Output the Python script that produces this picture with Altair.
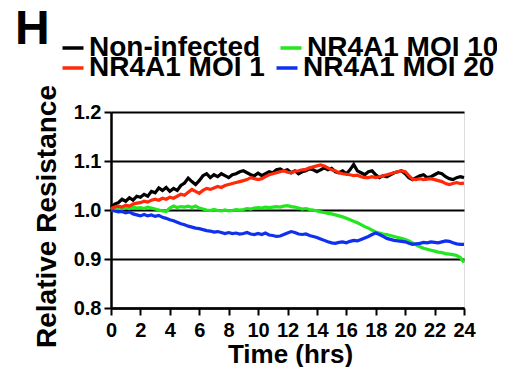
import altair as alt
import pandas as pd

row1_names = ["Non-infected", "NR4A1 MOI 10"]
row1_colors = ["#000000", "#22e61e"]
row2_names = ["NR4A1 MOI 1", "NR4A1 MOI 20"]
row2_colors = ["#ff2a0a", "#1030f0"]

step_hours = 0.25

non_infected = [
    1.005, 1.012, 1.015, 1.022, 1.018, 1.025, 1.020, 1.028, 1.026, 1.032, 1.028, 1.038,
    1.035, 1.045, 1.040, 1.046, 1.038, 1.044, 1.040, 1.050, 1.055, 1.065, 1.058, 1.052,
    1.060, 1.070, 1.074, 1.066, 1.072, 1.068, 1.074, 1.070, 1.066, 1.072, 1.074, 1.078,
    1.080, 1.076, 1.072, 1.070, 1.075, 1.070, 1.074, 1.078, 1.076, 1.082, 1.084, 1.080,
    1.082, 1.076, 1.080, 1.074, 1.078, 1.080, 1.084, 1.082, 1.078, 1.082, 1.086, 1.082,
    1.085, 1.078, 1.076, 1.080, 1.074, 1.082, 1.093, 1.080, 1.076, 1.072, 1.078, 1.080,
    1.072, 1.066, 1.070, 1.068, 1.072, 1.076, 1.078, 1.080, 1.074, 1.066, 1.062, 1.066,
    1.070, 1.072, 1.066, 1.068, 1.072, 1.076, 1.074, 1.068, 1.064, 1.062, 1.066, 1.068,
    1.066,
]

moi_1 = [
    1.003, 1.006, 1.008, 1.006, 1.010, 1.008, 1.012, 1.014, 1.015, 1.018, 1.016, 1.020,
    1.022, 1.020, 1.024, 1.022, 1.026, 1.024, 1.028, 1.032, 1.030, 1.036, 1.042, 1.038,
    1.034, 1.040, 1.044, 1.042, 1.045, 1.048, 1.046, 1.050, 1.052, 1.054, 1.056, 1.058,
    1.060, 1.062, 1.066, 1.064, 1.062, 1.064, 1.068, 1.072, 1.074, 1.076, 1.078, 1.080,
    1.077, 1.076, 1.079, 1.080, 1.082, 1.083, 1.086, 1.088, 1.090, 1.092, 1.090, 1.086,
    1.082, 1.080, 1.076, 1.074, 1.073, 1.072, 1.070, 1.071, 1.068, 1.066, 1.066, 1.068,
    1.066, 1.068, 1.070, 1.072, 1.074, 1.076, 1.078, 1.080, 1.078, 1.070, 1.063, 1.062,
    1.064, 1.062, 1.063, 1.064, 1.062, 1.060, 1.058, 1.054, 1.052, 1.054, 1.056, 1.054,
    1.055,
]

moi_10 = [
    1.000, 1.002, 1.004, 1.002, 1.005, 1.003, 1.006, 1.004, 1.005, 1.003, 1.006, 1.004,
    1.002, 1.000, 0.998, 0.997, 1.004, 1.008, 1.005, 1.007, 1.006, 1.008, 1.005, 1.008,
    1.004, 1.002, 1.000, 0.999, 1.001, 0.999, 0.998, 1.000, 0.998, 0.999, 1.001, 1.000,
    1.001, 1.003, 1.002, 1.004, 1.005, 1.004, 1.006, 1.005, 1.006, 1.007, 1.006, 1.008,
    1.009, 1.007, 1.006, 1.004, 1.002, 1.003, 1.001, 1.000, 0.998, 0.996, 0.995, 0.993,
    0.992, 0.990, 0.988, 0.986, 0.983, 0.980, 0.977, 0.974, 0.970, 0.966, 0.963, 0.959,
    0.955, 0.953, 0.951, 0.950, 0.948, 0.946, 0.944, 0.942, 0.940, 0.937, 0.933, 0.929,
    0.925, 0.922, 0.920, 0.918, 0.916, 0.914, 0.913, 0.911, 0.910, 0.909, 0.907, 0.903,
    0.893,
]

moi_20 = [
    0.999, 0.998, 0.996, 0.997, 0.994, 0.996, 0.992, 0.990, 0.988, 0.991, 0.988, 0.990,
    0.987, 0.989, 0.985, 0.983, 0.980, 0.978, 0.975, 0.972, 0.970, 0.967, 0.965, 0.963,
    0.962, 0.960, 0.958, 0.957, 0.955, 0.956, 0.954, 0.952, 0.954, 0.952, 0.953, 0.951,
    0.952, 0.954, 0.951, 0.950, 0.952, 0.950, 0.953, 0.949, 0.948, 0.946, 0.947, 0.950,
    0.953, 0.956, 0.954, 0.951, 0.950, 0.951, 0.948, 0.946, 0.944, 0.941, 0.938, 0.935,
    0.933, 0.932, 0.934, 0.935, 0.933, 0.936, 0.938, 0.937, 0.940, 0.943, 0.946, 0.950,
    0.953, 0.950, 0.946, 0.942, 0.940, 0.938, 0.937, 0.936, 0.935, 0.932, 0.930, 0.931,
    0.932, 0.934, 0.933, 0.935, 0.934, 0.933, 0.935, 0.937, 0.936, 0.933, 0.931, 0.930,
    0.930,
]

x_ticks = list(range(0, 25, 2))
y_ticks = [0.8, 0.9, 1.0, 1.1, 1.2]


def to_rows(pairs):
    out = []
    for name, vals in pairs:
        for i, v in enumerate(vals):
            out.append({"series": name, "t": i * step_hours, "v": v})
    return pd.DataFrame(out)


df_row1 = to_rows([("Non-infected", non_infected), ("NR4A1 MOI 10", moi_10)])
df_row2 = to_rows([("NR4A1 MOI 20", moi_20), ("NR4A1 MOI 1", moi_1)])

FONT = "Liberation Sans"

x_enc = alt.X("t:Q",
              scale=alt.Scale(domain=[0, 24], nice=False),
              axis=alt.Axis(values=x_ticks, title="Time (hrs)", labelOverlap=False,
                            labelFlush=False,
                            labelFontSize=20, labelFontWeight="bold", labelFont=FONT,
                            labelColor="black", labelPadding=5, tickSize=7, tickWidth=2,
                            tickColor="black", domainColor="black", domainWidth=2.5,
                            titleFontSize=26, titleFont=FONT, titleFontWeight="bold",
                            titleColor="black", titleBaseline="alphabetic", titleY=54,
                            titleX=179, grid=False))
y_enc = alt.Y("v:Q",
              scale=alt.Scale(domain=[0.8, 1.2], nice=False, zero=False),
              axis=alt.Axis(values=y_ticks, format=".1f", title="Relative Resistance",
                            labelFontSize=20, labelFontWeight="bold", labelFont=FONT,
                            labelColor="black", labelPadding=3, tickSize=7, tickWidth=2,
                            tickColor="black", domainColor="black", domainWidth=2.5,
                            titleFontSize=28, titleFont=FONT, titleFontWeight="bold",
                            titleColor="black", titleBaseline="alphabetic", titleAngle=270,
                            titleX=-56, titleY=104, titleAlign="center",
                            grid=True, gridColor="black", gridWidth=2, gridOpacity=1))

legend_common = dict(title=None, orient="none", direction="horizontal",
                     symbolType="stroke", symbolSize=441, symbolStrokeWidth=3.5,
                     labelFontSize=28, labelFont=FONT, labelFontWeight="bold",
                     labelColor="black", labelOffset=2, labelLimit=400)

layer1 = alt.Chart(df_row1).mark_line(strokeWidth=3.2).encode(
    x=x_enc, y=y_enc,
    color=alt.Color("series:N",
                    scale=alt.Scale(domain=row1_names, range=row1_colors),
                    legend=alt.Legend(legendX=-52, legendY=-78, columnPadding=12,
                                      **legend_common)),
)

layer2 = alt.Chart(df_row2).mark_line(strokeWidth=3.2).encode(
    x=x_enc, y=y_enc,
    stroke=alt.Stroke("series:N",
                      scale=alt.Scale(domain=row2_names, range=row2_colors),
                      legend=alt.Legend(legendX=-52, legendY=-58, columnPadding=4,
                                        **legend_common)),
)

chart = alt.layer(layer1, layer2).properties(
    width=353,
    height=196,
    title=alt.TitleParams("H", anchor="start", fontSize=48, font=FONT, fontWeight="bold",
                          color="black", frame="group", dx=-96, dy=24),
    autosize=alt.AutoSizeParams(type="none"),
    padding={"left": 103, "top": 104, "right": 33, "bottom": 59},
).configure_view(stroke=None).configure(background="white")

chart.save("out.html", embed_options={"renderer": "svg", "actions": False})
